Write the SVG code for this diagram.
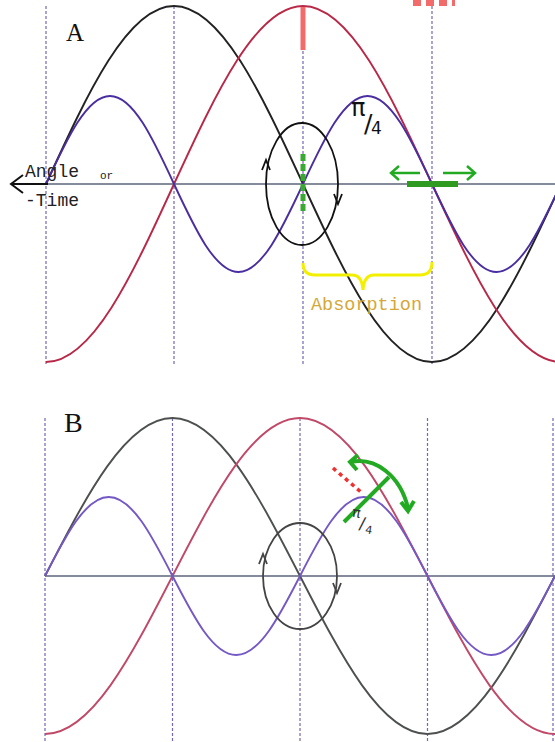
<svg xmlns="http://www.w3.org/2000/svg" width="555" height="742" viewBox="0 0 555 742">
<style>
.grid{stroke:#7468b0;stroke-width:1.2;stroke-dasharray:3 2;fill:none}
.axis{stroke:#5c6478;stroke-width:1.6;fill:none}
.curve{fill:none;stroke-width:1.9}
.mono{font-family:"Liberation Mono","DejaVu Sans Mono",monospace}
.letter{font-family:"Liberation Serif","DejaVu Serif",serif}
.hand{font-family:"DejaVu Sans","Liberation Sans",sans-serif}
</style>
<rect width="555" height="742" fill="#ffffff"/>
<g id="panelA">
  <g id="gridA">
    <line class="grid" x1="46" y1="6" x2="46" y2="366"/>
    <line class="grid" x1="174" y1="6" x2="174" y2="366"/>
    <line class="grid" x1="303" y1="6" x2="303" y2="366"/>
    <line class="grid" x1="432" y1="6" x2="432" y2="366"/>
  </g>
  <line id="axisA" class="axis" x1="46" y1="184" x2="555" y2="184"/>
  <g id="curvesA">
    <path class="curve" stroke="#222222" d="M46,184 C87.7,92.8 127.7,6 174,6 C220.7,6 260.9,92.8 303,184 C345.1,275.2 385.3,362 432,362 C478.7,362 518.9,275.2 561,184"/>
    <path class="curve" stroke="#b82848" d="M46,362 C92.3,362 132.3,275.2 174,184 C216.1,92.8 256.3,6 303,6 C349.7,6 389.9,92.8 432,184 C474.1,275.2 514.3,362 561,362"/>
    <path class="curve" stroke="#4a2ea0" d="M46,184 C66.9,138.9 86.8,96 110,96 C133.2,96 153.1,138.9 174,184 C195,229.1 215.2,272 238.5,272 C261.8,272 282,229.1 303,184 C324,138.9 344.2,96 367.5,96 C390.8,96 411,138.9 432,184 C453,229.1 473.2,272 496.5,272 C519.8,272 540,229.1 561,184"/>
  </g>
  <g id="arrowAngle">
    <line x1="48" y1="184" x2="11" y2="184" stroke="#111" stroke-width="2"/>
    <polyline points="23,175 11,184 23,193" fill="none" stroke="#111" stroke-width="2"/>
  </g>
  <text id="labelA" class="letter" x="66" y="41" font-size="25" fill="#111">A</text>
  <text id="angle" class="mono" x="25" y="177" font-size="18" fill="#222">Angle</text>
  <text id="or" class="mono" x="100" y="179" font-size="11" fill="#222">or</text>
  <text id="time" class="mono" x="25" y="206" font-size="18" fill="#222">-Time</text>
  <line id="pinkBar" x1="303" y1="7" x2="303" y2="50" stroke="#f26a6a" stroke-width="5"/>
  <line id="pinkDash" x1="413" y1="3" x2="455" y2="3" stroke="#f26a6a" stroke-width="6" stroke-dasharray="8 5"/>
  <g id="circleA" fill="none" stroke="#111" stroke-width="1.8">
    <ellipse cx="302" cy="184" rx="36" ry="61"/>
    <polyline points="262,170 266,160 270,170"/>
    <polyline points="334,194 338,204 342,194"/>
  </g>
  <line id="greenDashA" x1="303" y1="154" x2="303" y2="213" stroke="#3aa832" stroke-width="5" stroke-dasharray="7 3"/>
  <line id="greenBarA" x1="407" y1="184" x2="458" y2="184" stroke="#2e9a20" stroke-width="6"/>
  <g id="greenArrowsA" fill="none" stroke="#22aa22" stroke-width="2.5">
    <line x1="420" y1="173" x2="391" y2="173"/>
    <polyline points="399,166 391,173 399,180"/>
    <line x1="443" y1="173" x2="475" y2="173"/>
    <polyline points="467,166 475,173 467,180"/>
  </g>
  <text id="piA" class="hand" x="351" y="116" font-size="24" fill="#111">π<tspan x="364" y="132" font-size="25">/</tspan><tspan x="371" y="134" font-size="17">4</tspan></text>
  <path id="brace" d="M303,263 Q303,275 315,275 L352,275 Q362,275 363,290 Q364,275 374,275 L420,275 Q432,275 432,262" fill="none" stroke="#f2f000" stroke-width="3"/>
  <text id="absorption" class="mono" x="311" y="310" font-size="18.5" fill="#d4a838">Absorption</text>
</g>
<g id="panelB">
  <g id="gridB">
    <line class="grid" x1="45" y1="418" x2="45" y2="742"/>
    <line class="grid" x1="172.5" y1="418" x2="172.5" y2="742"/>
    <line class="grid" x1="300" y1="418" x2="300" y2="742"/>
    <line class="grid" x1="427.5" y1="418" x2="427.5" y2="742"/>
    <line class="grid" x1="553" y1="418" x2="553" y2="742"/>
  </g>
  <line id="axisB" class="axis" x1="45" y1="576" x2="555" y2="576" stroke-width="2" stroke="#6a7088"/>
  <g id="curvesB">
    <path class="curve" stroke="#4e5050" d="M45,576 C86.6,495.1 126.4,418 172.5,418 C218.6,418 258.4,495.1 300,576 C341.6,656.9 381.4,734 427.5,734 C473.6,734 513.4,656.9 555,576"/>
    <path class="curve" stroke="#c04868" d="M45,734 C91.1,734 130.9,656.9 172.5,576 C214.1,495.1 253.9,418 300,418 C346.1,418 385.9,495.1 427.5,576 C469.1,656.9 508.9,734 555,734"/>
    <path class="curve" stroke="#7458c4" d="M45,576 C65.8,535.5 85.7,497 108.75,497 C131.85,497 151.75,535.5 172.5,576 C193.3,616.5 213.2,655 236.25,655 C259.35,655 279.25,616.5 300,576 C320.8,535.5 340.7,497 363.75,497 C386.85,497 406.75,535.5 427.5,576 C448.3,616.5 468.2,655 491.25,655 C514.35,655 534.25,616.5 555,576"/>
  </g>
  <text id="labelB" class="letter" x="64" y="432" font-size="28" fill="#111">B</text>
  <g id="circleB" fill="none" stroke="#444" stroke-width="1.8">
    <ellipse cx="300" cy="576" rx="37" ry="53"/>
    <polyline points="259,564 263,554 267,564"/>
    <polyline points="333,583 337,593 341,583"/>
  </g>
  <line id="redDotsB" x1="333" y1="468" x2="362" y2="493" stroke="#f03030" stroke-width="3.5" stroke-dasharray="4 4"/>
  <g id="greenArcB" fill="none" stroke="#22aa22" stroke-width="4">
    <path d="M351,462 C375,457 400,475 408,508"/>
    <polyline points="358,455 350,462 357,470"/>
    <polyline points="401,502 408,511 414,501"/>
    <line x1="344" y1="522" x2="389" y2="477"/>
  </g>
  <text id="piB" class="hand" x="351" y="518" font-size="14" fill="#333" transform="rotate(10 360 520)">π<tspan x="360" y="529" font-size="17">/</tspan><tspan x="367" y="532" font-size="11">4</tspan></text>
</g>
</svg>
